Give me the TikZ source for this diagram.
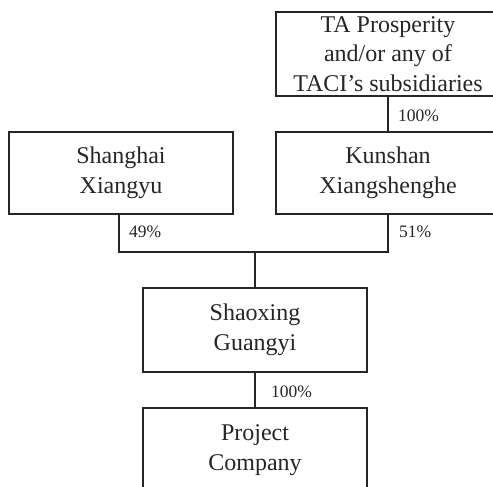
\documentclass[tikz,border=0pt]{standalone}
\usepackage{fontspec}
\setmainfont{Liberation Serif}
\begin{document}
\begin{tikzpicture}[x=1pt,y=-1pt,
  entity/.style={draw=black!85, line width=1.4pt, rectangle, minimum width=224pt, inner sep=0pt, align=center, text=black!85, font=\fontsize{24}{29.5}\selectfont},
  link/.style={draw=black!85, line width=1.4pt},
  pct/.style={anchor=west, inner sep=0pt, text=black!85, font=\fontsize{17.5}{19}\selectfont}]
\useasboundingbox (0,0) rectangle (493,487);
\clip (0,0) rectangle (493,487);
\node[entity, minimum height=84pt] (ta) at (388,54) {TA Prosperity\\and/or any of\\TACI’s subsidiaries};
\node[entity, minimum height=82pt] (ks) at (388,173) {Kunshan\\Xiangshenghe};
\node[entity, minimum height=82pt] (sh) at (121,173) {Shanghai\\Xiangyu};
\node[entity, minimum height=84pt] (sx) at (255,330) {Shaoxing\\Guangyi};
\node[entity, minimum height=84pt] (pc) at (255,450) {Project\\Company};
\coordinate (j) at (255,252);
\draw[link] (ta.south) -- (ks.north);
\draw[link] ([xshift=-2pt]sh.south) |- (j) -| (ks.south);
\draw[link] (j) -- (sx.north);
\draw[link] (sx.south) -- (pc.north);
\node[pct] (p1) at (398,116) {100\%};
\node[pct] (p2) at (129,232) {49\%};
\node[pct] (p3) at (399,232) {51\%};
\node[pct] (p4) at (271,392) {100\%};
\end{tikzpicture}
\end{document}
